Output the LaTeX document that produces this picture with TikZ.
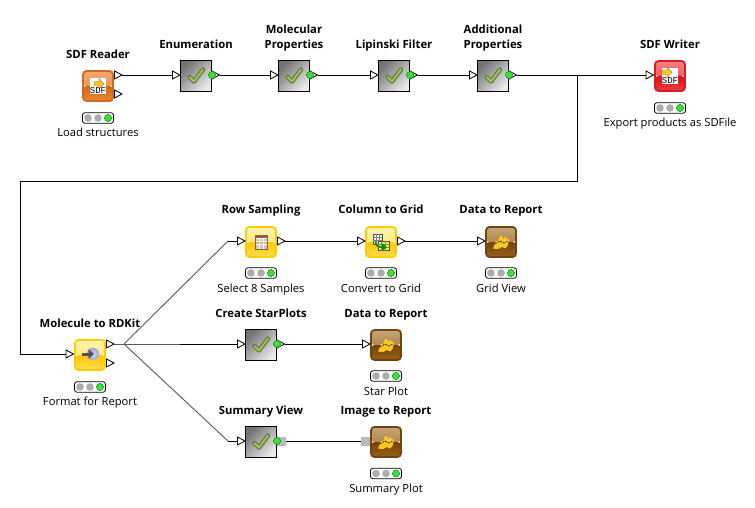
\documentclass[tikz,border=0pt]{standalone}
\usepackage{fontspec}
\setmainfont{Open Sans}
\setmonofont{Liberation Mono}
\usetikzlibrary{calc}
\definecolor{orangeline}{HTML}{D4681C}\definecolor{orangea}{HTML}{F0A874}\definecolor{orangeb}{HTML}{EA8A3E}\definecolor{orangec}{HTML}{D8660E}\definecolor{oranged}{HTML}{E6873A}
\definecolor{redline}{HTML}{D81C24}\definecolor{reda}{HTML}{F88080}\definecolor{redb}{HTML}{F04040}\definecolor{redc}{HTML}{DC1018}\definecolor{redd}{HTML}{EE3A40}
\definecolor{yellowline}{HTML}{FFCC00}\definecolor{yellowa}{HTML}{FFF4B0}\definecolor{yellowb}{HTML}{FFE258}\definecolor{yellowc}{HTML}{FFC800}\definecolor{yellowd}{HTML}{FFDC50}
\definecolor{brownline}{HTML}{744410}\definecolor{browna}{HTML}{C4A478}\definecolor{brownb}{HTML}{9E6C2C}\definecolor{brownc}{HTML}{744404}\definecolor{brownd}{HTML}{96601C}
\definecolor{checkdark}{HTML}{5F7F33}
\definecolor{checklight}{HTML}{A4C266}
\definecolor{iconyellow}{HTML}{FFC820}
\definecolor{cellwarm}{HTML}{F0A868}
\definecolor{cellcool}{HTML}{BCCBD8}
\definecolor{tablebrown}{HTML}{8A6238}
\definecolor{ledgreen}{HTML}{38E038}
\definecolor{ledline}{HTML}{1A8A1A}
\definecolor{orbblue}{HTML}{B4B4F2}
\tikzset{
  x=1pt,y=-1pt,
  title/.style={font=\fontsize{11.3}{15}\selectfont\bfseries,align=center,text=black,inner sep=0pt,text height=8.3pt,text depth=0pt},
  titletwo/.style={title,text height=23.3pt},
  caption/.style={font=\fontsize{11.2}{14}\selectfont,align=center,text=black,inner sep=0pt,text height=8.1pt,text depth=0pt},
  wire/.style={black,line width=0.9pt},
  fanwire/.style={black!65,line width=0.9pt},
  portshape/.style={draw=black,fill=white,line width=0.8pt,line join=miter},
  stub/.style={fill=black!27,draw=none,minimum width=9pt,minimum height=9pt,inner sep=0pt},
  glossy/.style n args={5}{draw=#1,line width=1.8pt,rounded corners=3.5pt,minimum size=30pt,inner sep=0pt,
    path picture={
      \shade[top color=#2,bottom color=#3] (path picture bounding box.north west) rectangle (path picture bounding box.east);
      \shade[top color=#4,bottom color=#5] (path picture bounding box.west) rectangle (path picture bounding box.south east);
    }},
  orangebox/.style={glossy={orangeline}{orangea}{orangeb}{orangec}{oranged}},
  redbox/.style={glossy={redline}{reda}{redb}{redc}{redd}},
  yellowbox/.style={glossy={yellowline}{yellowa}{yellowb}{yellowc}{yellowd}},
  brownbox/.style={glossy={brownline}{browna}{brownb}{brownc}{brownd}},
  metabox/.style={draw=black,line width=0.9pt,minimum size=31pt,inner sep=0pt,
    path picture={\shade[top color=black!55,bottom color=black!8,shading angle=45]
      (path picture bounding box.south west) rectangle (path picture bounding box.north east);}},
  lampbox/.style={draw=black,fill=white,line width=0.8pt,rounded corners=2.5pt,minimum width=31pt,minimum height=10.5pt,inner sep=0pt},
  lampoff/.style={fill=black!32,draw=none},
  lampon/.style={fill=ledgreen,draw=ledline,line width=0.5pt},
  sdftext/.style={inner sep=0pt,font=\ttfamily\fontsize{9}{9}\selectfont,text=black},
}
\newcommand{\kport}[3]{%
  \coordinate (#1-l) at (#2,#3);
  \coordinate (#1-r) at (#2+7.5,#3);
  \draw[portshape] (#2,#3-4) -- (#2+7.5,#3) -- (#2,#3+4) -- cycle;}
\newcommand{\klamp}[3]{%
  \node[lampbox] (#1) at (#2,#3) {};
  \fill[lampoff] (#2-10,#3) circle (3.8);
  \fill[lampoff] (#2,#3) circle (3.8);
  \filldraw[lampon] (#2+10,#3) circle (3.6);}
\newcommand{\kcheck}[2]{%
  \draw[checkdark,line width=4.4pt,line cap=round,line join=round] (#1-6.5,#2+1) -- (#1-2,#2+5.5) -- (#1+7,#2-6.5);
  \draw[checklight,line width=1.8pt,line cap=round,line join=round] (#1-6.5,#2+1) -- (#1-2,#2+5.5) -- (#1+7,#2-6.5);}
\newcommand{\kmeta}[3]{%
  \node[metabox] (#1) at (#2,#3) {};
  \kcheck{#2}{#3}
  \kport{#1-in}{#2-23.5}{#3-1}
  \kport{#1-out}{#2+16}{#3-1}
  \filldraw[lampon] (#2+16,#3-1) circle (3.6);}
\newcommand{\kreport}[3]{%
  \node[brownbox] (#1) at (#2,#3) {};
  \fill[iconyellow] (#2-8,#3+6.5) -- (#2-5,#3-1) -- (#2-3,#3-1) -- (#2-1,#3-6) -- (#2+1,#3-6) -- (#2+2,#3-3) -- (#2+4,#3-5) -- (#2+6,#3-3) -- (#2+8,#3-2.5) -- (#2+6.5,#3+4) -- (#2+4,#3+6.5) -- (#2+1,#3+5) -- (#2-3,#3+7) -- cycle;
  \draw[black!75,line width=0.9pt,dash pattern=on 2pt off 1pt] (#2-6,#3+2) -- (#2-1,#3-1) -- (#2+3,#3+1) -- (#2+7,#3-1);}
\begin{document}
\begin{tikzpicture}
\useasboundingbox (0,0) rectangle (755,508);
% --- top row
\node[orangebox] (reader) at (98,86) {};
\fill[white] (90,78) rectangle (106,94);
\fill[iconyellow,draw=black!60,line width=0.3pt] (94,81.5) -- (99,81.5) -- (99,78.5) -- (104,84) -- (99,89) -- (99,86) -- (94,86) -- cycle;
\node[sdftext] (readersdf) at (98,90.5) {SDF};
\kport{reader-a}{114.5}{75}
\kport{reader-b}{114.5}{94}
\node[title] (readert) at (98,54) {SDF Reader};
\klamp{readerl}{98}{118}
\node[caption] (readerc) at (98,132.5) {Load structures};

\kmeta{enum}{196}{76}
\node[title] (enumt) at (196,44) {Enumeration};
\kmeta{molprop}{294}{76}
\node[titletwo] (molpropt) at (294,36.5) {Molecular\\Properties};
\kmeta{lipinski}{394}{76}
\node[title] (lipinskit) at (394,44) {Lipinski Filter};
\kmeta{addprop}{493}{76}
\node[titletwo] (addpropt) at (493,36.5) {Additional\\Properties};

\node[redbox] (writer) at (670,76) {};
\fill[white] (662,68) rectangle (678,84);
\fill[iconyellow,draw=black!60,line width=0.3pt] (662,70) -- (667,70) -- (667,67) -- (672,72.5) -- (667,77.5) -- (667,75) -- (662,75) -- cycle;
\node[sdftext] (writersdf) at (670,80.5) {SDF};
\kport{writer-in}{646}{75}
\node[title] (writert) at (670,44) {SDF Writer};
\klamp{writerl}{670}{108}
\node[caption] (writerc) at (670,122.5) {Export products as SDFile};

% --- molecule to rdkit
\node[yellowbox] (rdkit) at (90,355) {};
\shade[inner color=orbblue!50!white,outer color=orbblue!90!black] (93,354) circle (6.2);
\fill[black!68] (82,352.5) rectangle (90,355.5);
\fill[black!68] (88.5,349) -- (94,354) -- (88.5,359) -- cycle;
\kport{rdkit-in}{66}{354}
\kport{rdkit-a}{106.5}{344}
\kport{rdkit-b}{106.5}{363}
\node[title] (rdkitt) at (90,323) {Molecule to RDKit};
\klamp{rdkitl}{90}{387}
\node[caption] (rdkitc) at (90,401.5) {Format for Report};

% --- row 1
\node[yellowbox] (rowsamp) at (261,242) {};
\fill[white] (255,235) rectangle (267.5,249);
\fill[tablebrown] (255,235) rectangle (267.5,238);
\foreach \cx in {255.5,259.7,263.9} {
  \fill[cellcool] (\cx,238.5) rectangle (\cx+3.4,241);
  \fill[cellwarm] (\cx,241.7) rectangle (\cx+3.4,244.2);
  \fill[cellcool] (\cx,244.9) rectangle (\cx+3.4,248.5);
}
\draw[tablebrown,line width=0.7pt] (255,235) rectangle (267.5,249);
\kport{rowsamp-in}{237.5}{241}
\kport{rowsamp-out}{277.5}{241}
\node[title] (rowsampt) at (261,209.5) {Row Sampling};
\klamp{rowsampl}{261}{273}
\node[caption] (rowsampc) at (261,288.5) {Select 8 Samples};

\node[yellowbox] (colgrid) at (381,242) {};
\fill[white,draw=black!70,line width=0.4pt] (373,234) rectangle (382,244);
\foreach \gx in {376,379} \draw[black!50,line width=0.3pt] (\gx,234) -- (\gx,244);
\foreach \gy in {237,240.5} \draw[black!50,line width=0.3pt] (373,\gy) -- (382,\gy);
\fill[yellow!70!white,draw=black!70,line width=0.4pt] (378,241) rectangle (389,250.5);
\foreach \gx in {381.5,385} \draw[black!50,line width=0.3pt] (\gx,241) -- (\gx,250.5);
\foreach \gy in {244,247} \draw[black!50,line width=0.3pt] (378,\gy) -- (389,\gy);
\draw[green!60!black,line width=1.8pt] (375.5,241) .. controls (375.5,246) and (378,247) .. (382,247);
\fill[green!60!black] (382,243) -- (387,247) -- (382,251) -- cycle;
\kport{colgrid-in}{357.5}{241}
\kport{colgrid-out}{397.5}{241}
\node[title] (colgridt) at (381,209.5) {Column to Grid};
\klamp{colgridl}{381}{273}
\node[caption] (colgridc) at (381,288.5) {Convert to Grid};

\kreport{grid}{501}{242}
\kport{grid-in}{477.5}{241}
\node[title] (gridt) at (501,209.5) {Data to Report};
\klamp{gridl}{501}{273}
\node[caption] (gridc) at (501,288.5) {Grid View};

% --- row 2
\kmeta{star}{261}{345}
\node[title] (start) at (261,313) {Create StarPlots};
\kreport{stardata}{386}{345}
\kport{stardata-in}{362.5}{344}
\node[title] (stardatat) at (386,313) {Data to Report};
\klamp{stardatal}{386}{376}
\node[caption] (stardatac) at (386,391.5) {Star Plot};

% --- row 3
\node[metabox] (summary) at (261,442) {};
\kcheck{261}{442}
\kport{summary-in}{237.5}{441}
\node[stub] (summaryout) at (281.5,441.5) {};
\filldraw[lampon] (277,441) circle (3.6);
\node[title] (summaryt) at (261,410) {Summary View};
\kreport{image}{386}{442}
\node[stub] (imagein) at (365.5,441.5) {};
\node[title] (imaget) at (386,410) {Image to Report};
\klamp{imagel}{386}{473.5}
\node[caption] (imagec) at (386,488.5) {Summary Plot};

% --- connectors
\coordinate (branch) at (577,75);
\coordinate (c1) at (577,181);
\coordinate (c2) at (20,181);
\coordinate (c3) at (20,354);
\coordinate (fan) at (124,344);
\coordinate (fanup) at (228,241);
\coordinate (fandown) at (228,441);
\draw[wire] (reader-a-r) -- (enum-in-l);
\draw[wire] (enum-out-r) -- (molprop-in-l);
\draw[wire] (molprop-out-r) -- (lipinski-in-l);
\draw[wire] (lipinski-out-r) -- (addprop-in-l);
\draw[wire] (addprop-out-r) -- (writer-in-l);
\draw[wire] (branch) -- (c1) -- (c2) -- (c3) -- (rdkit-in-l);
\draw[wire] (rdkit-a-r) -- (fan) -- (star-in-l);
\draw[fanwire] (fan) -- (fanup);
\draw[wire] (fanup) -- (rowsamp-in-l);
\draw[fanwire] (fan) -- (fandown);
\draw[wire] (fandown) -- (summary-in-l);
\draw[wire] (rowsamp-out-r) -- (colgrid-in-l);
\draw[wire] (colgrid-out-r) -- (grid-in-l);
\draw[wire] (star-out-r) -- (stardata-in-l);
\draw[wire] (summaryout.east) -- (imagein.west);
\end{tikzpicture}
\end{document}
